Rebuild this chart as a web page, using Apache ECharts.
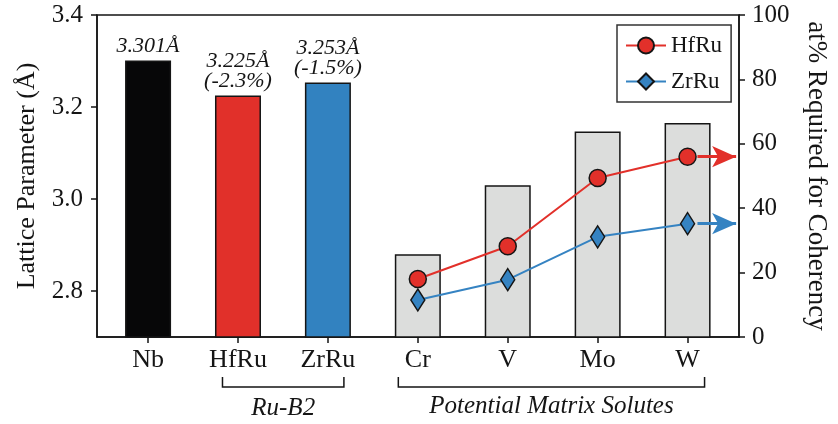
<!DOCTYPE html>
<html>
<head>
<meta charset="utf-8">
<script src="https://cdn.jsdelivr.net/npm/echarts@6/dist/echarts.min.js"></script>
<style>
  html, body { margin: 0; padding: 0; background: #ffffff; }
  #chart { width: 838px; height: 424px; }
</style>
</head>
<body>
<div id="chart"></div>
<script>
// Lattice parameters (Å) of the matrix, the Ru-B2 phases and candidate solutes
const categories = ['Nb', 'HfRu', 'ZrRu', 'Cr', 'V', 'Mo', 'W'];
const latticeParams = [3.301, 3.225, 3.253, 2.88, 3.03, 3.147, 3.165];

// at% of each solute needed for coherency with each B2 phase (positions 3..6)
const solutePositions = [3, 4, 5, 6];
const hfruAt = [18.0, 28.2, 49.4, 56.0];
const zrruAt = [11.5, 17.8, 31.1, 35.2];

// axis ticks
const leftTicks = [2.8, 3.0, 3.2, 3.4];
const categoryTicks = [0, 1, 2, 3, 4, 5, 6];

// group brackets beneath the category axis
const groupNames = ['Ru-B2', 'Potential Matrix Solutes'];
const groupFrom = [1, 3];
const groupTo = [2, 6];

const FONT = '"Liberation Serif", "Times New Roman", serif';
const INK = '#151515';
const RED = '#e2302a';
const BLUE = '#3583c2';
const barFills = ['#070708', '#e1302a', '#3282c0', '#dcdddc', '#dcdddc', '#dcdddc', '#dcdddc'];

const chart = echarts.init(document.getElementById('chart'), null, { renderer: 'canvas' });

const refValue = latticeParams[0];
function barLabel(p) {
  const i = p.dataIndex;
  const v = latticeParams[i];
  if (i === 0) return v.toFixed(3) + 'Å';
  if (i === 1 || i === 2) {
    const pct = ((v - refValue) / refValue * 100).toFixed(1);
    return v.toFixed(3) + 'Å\n(' + pct + '%)';
  }
  return '';
}

const barData = latticeParams.map((v, i) => ({
  value: [i, v],
  itemStyle: { color: barFills[i] },
  label: { show: i < 3 }
}));

const hfruData = hfruAt.map((v, i) => [solutePositions[i], v]);
const zrruData = zrruAt.map((v, i) => [solutePositions[i], v]);

function arrowLine(lastValue, color) {
  return {
    silent: true,
    symbol: ['none', 'arrow'],
    symbolSize: [16, 24],
    label: { show: false },
    lineStyle: { color: color, width: 3, type: 'solid' },
    emphasis: { disabled: true },
    data: [[{ coord: [6.11, lastValue] }, { coord: [6.54, lastValue] }]]
  };
}

const option = {
  animation: false,
  backgroundColor: '#ffffff',
  textStyle: { fontFamily: FONT, color: INK },
  grid: {
    left: 97, right: 96, top: 15, bottom: 87,
    show: true, borderColor: INK, borderWidth: 1.5, backgroundColor: 'transparent'
  },
  legend: {
    data: ['HfRu', 'ZrRu'],
    orient: 'vertical',
    left: 617, top: 25,
    backgroundColor: '#ffffff',
    borderColor: '#333333', borderWidth: 1.5, borderRadius: 0,
    padding: [9, 9, 9, 8],
    itemWidth: 40, itemHeight: 20, itemGap: 13,
    textStyle: { fontSize: 23, fontFamily: FONT, color: INK }
  },
  xAxis: {
    type: 'value',
    min: -0.568, max: 6.572,
    splitLine: { show: false },
    axisLine: { show: true, onZero: false, lineStyle: { color: INK, width: 1.5 } },
    axisTick: { show: true, customValues: categoryTicks, length: 6, inside: false, lineStyle: { color: INK, width: 1.5 } },
    axisLabel: {
      customValues: categoryTicks,
      formatter: v => categories[Math.round(v)],
      fontSize: 26, fontFamily: FONT, color: INK, margin: 10
    }
  },
  yAxis: [
    {
      type: 'value',
      min: 2.7, max: 3.4,
      position: 'left',
      name: 'Lattice Parameter (Å)',
      nameLocation: 'middle', nameRotate: 90, nameGap: 57,
      nameTextStyle: { fontSize: 26, fontFamily: FONT, color: INK },
      splitLine: { show: false },
      axisLine: { show: true, onZero: false, lineStyle: { color: INK, width: 1.5 } },
      axisTick: { show: true, customValues: leftTicks, length: 6, lineStyle: { color: INK, width: 1.5 } },
      axisLabel: {
        customValues: leftTicks,
        formatter: v => v.toFixed(1),
        fontSize: 25, fontFamily: FONT, color: INK, margin: 14
      }
    },
    {
      type: 'value',
      min: 0, max: 100, interval: 20,
      position: 'right',
      name: 'at% Required for Coherency',
      nameLocation: 'middle', nameRotate: -90, nameGap: 64,
      nameTextStyle: { fontSize: 27, fontFamily: FONT, color: INK },
      splitLine: { show: false },
      axisLine: { show: true, onZero: false, lineStyle: { color: INK, width: 1.5 } },
      axisTick: { show: true, length: 6, lineStyle: { color: INK, width: 1.5 } },
      axisLabel: { fontSize: 25, fontFamily: FONT, color: INK, margin: 13 }
    }
  ],
  series: [
    {
      name: 'Lattice',
      type: 'bar',
      xAxisIndex: 0, yAxisIndex: 0,
      barWidth: 46,
      data: barData,
      z: 2,
      silent: true,
      itemStyle: { borderColor: INK, borderWidth: 1.5 },
      label: {
        position: 'top', distance: 4,
        formatter: barLabel,
        fontSize: 22, fontStyle: 'italic', fontFamily: FONT, color: INK,
        lineHeight: 20, align: 'center'
      }
    },
    {
      name: 'HfRu',
      type: 'line',
      xAxisIndex: 0, yAxisIndex: 1,
      data: hfruData,
      z: 5,
      symbol: 'circle', symbolSize: 17,
      lineStyle: { color: RED, width: 2 },
      itemStyle: { color: RED, borderColor: INK, borderWidth: 1.5 },
      markLine: arrowLine(hfruAt[hfruAt.length - 1], RED)
    },
    {
      name: 'ZrRu',
      type: 'line',
      xAxisIndex: 0, yAxisIndex: 1,
      data: zrruData,
      z: 5,
      symbol: 'diamond', symbolSize: [14, 22],
      lineStyle: { color: BLUE, width: 2 },
      itemStyle: { color: BLUE, borderColor: INK, borderWidth: 1.5 },
      markLine: arrowLine(zrruAt[zrruAt.length - 1], BLUE)
    }
  ]
};

chart.setOption(option);

// group brackets and captions placed from the category axis scale
const px = v => chart.convertToPixel({ xAxisIndex: 0 }, v);
const bracketTop = 377, bracketBottom = 387;
const padLeft = [15.5, 19.5], padRight = [16, 17];
const captionY = [408, 406];
const graphics = [];
groupNames.forEach((name, g) => {
  const x0 = px(groupFrom[g]) - padLeft[g];
  const x1 = px(groupTo[g]) + padRight[g];
  graphics.push({
    type: 'polyline',
    silent: true,
    shape: { points: [[x0, bracketTop], [x0, bracketBottom], [x1, bracketBottom], [x1, bracketTop]] },
    style: { stroke: INK, lineWidth: 1.5, fill: null }
  });
  graphics.push({
    type: 'text',
    silent: true,
    x: (x0 + x1) / 2,
    y: captionY[g],
    style: {
      text: name,
      fontSize: 25, fontStyle: 'italic', fontFamily: FONT,
      fill: INK, align: 'center', verticalAlign: 'middle'
    }
  });
});
chart.setOption({ graphic: graphics });
</script>
</body>
</html>
